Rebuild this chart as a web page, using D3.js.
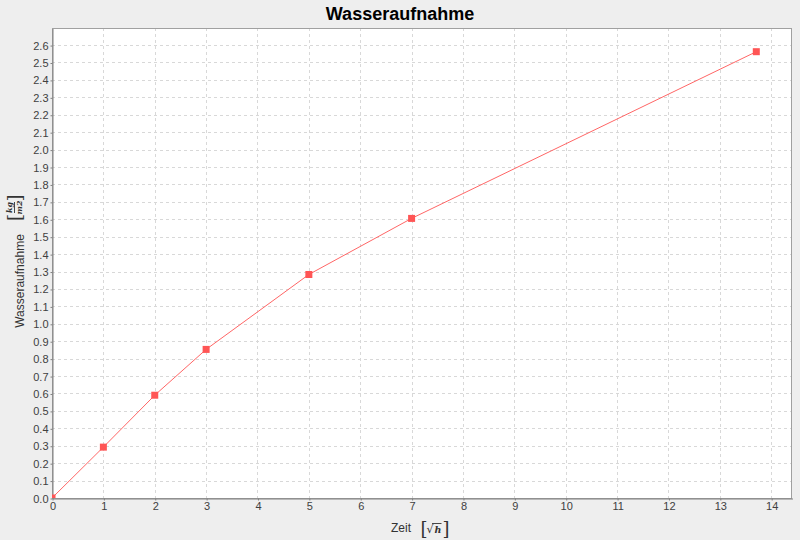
<!DOCTYPE html>
<html><head><meta charset="utf-8">
<script src="https://cdn.jsdelivr.net/npm/d3@7"></script>
<style>body{margin:0;background:#eeeeee;} svg{display:block;font-family:"Liberation Sans",Arial,sans-serif;}</style>
</head><body>
<svg id="c" width="800" height="540"></svg>
<script>
const title = "Wasseraufnahme";
const xValues = [0, 1, 2, 3, 5, 7, 13.71];
const yValues = [0, 0.292, 0.59, 0.853, 1.283, 1.605, 2.562];
const xTicks = d3.range(0, 15, 1);
const yTicks = d3.range(0, 27, 1).map(i => +(i * 0.1).toFixed(1));
const xLabel = "Zeit";
const yLabel = "Wasseraufnahme";

const svg = d3.select("#c");
const L = 52, R = 792, T = 28, B = 498;
const x = d3.scaleLinear().domain([0, 14.405]).range([L, R]);
const y = d3.scaleLinear().domain([0, 2.698]).range([B, T]);

svg.append("rect").attr("width", 800).attr("height", 540).attr("fill", "#eeeeee");
svg.append("rect").attr("x", L).attr("y", T).attr("width", R - L).attr("height", B - T).attr("fill", "#ffffff");

const grid = svg.append("g").attr("stroke", "#d8d8d8").attr("stroke-dasharray", "3,3").attr("stroke-width", 1);
xTicks.forEach(t => { if (t > 0) grid.append("line").attr("x1", Math.round(x(t)) + 0.5).attr("x2", Math.round(x(t)) + 0.5).attr("y1", T).attr("y2", B); });
yTicks.forEach(t => { if (t > 0) grid.append("line").attr("y1", Math.round(y(t)) + 0.5).attr("y2", Math.round(y(t)) + 0.5).attr("x1", L).attr("x2", R); });

svg.append("rect").attr("x", L + 0.5).attr("y", T + 0.5).attr("width", R - L - 1).attr("height", B - T).attr("fill", "none").attr("stroke", "#a0a0a0");

const xAxis = svg.append("g").attr("transform", `translate(0.5,${B + 0.5})`)
  .call(d3.axisBottom(x).tickValues(xTicks).tickFormat(d3.format("d")).tickSize(2).tickSizeOuter(0));
const yAxis = svg.append("g").attr("transform", `translate(${L + 0.5},0.5)`)
  .call(d3.axisLeft(y).tickValues(yTicks).tickFormat(d3.format(".1f")).tickSize(2).tickSizeOuter(0));
[xAxis, yAxis].forEach(a => {
  a.select(".domain").attr("stroke", "#808080");
  a.selectAll(".tick line").attr("stroke", "#808080");
  a.selectAll(".tick text").attr("fill", "#404040").attr("font-size", 11).attr("font-family", "Liberation Sans, Arial, sans-serif");
});
xAxis.selectAll(".tick text").attr("dy", "0.71em").attr("y", 4);
yAxis.selectAll(".tick text").attr("x", -4);

svg.append("clipPath").attr("id", "pc").append("rect").attr("x", L).attr("y", T).attr("width", R - L).attr("height", B - T);
const plot = svg.append("g").attr("clip-path", "url(#pc)");
const pts = xValues.map((v, i) => [v, yValues[i]]);
plot.append("path").attr("d", d3.line().x(d => x(d[0])).y(d => y(d[1]))(pts))
  .attr("fill", "none").attr("stroke", "#ff6666").attr("stroke-width", 1);
plot.selectAll("rect.m").data(pts).enter().append("rect").attr("class", "m")
  .attr("x", d => x(d[0]) - 3.5).attr("y", d => y(d[1]) - 3.5).attr("width", 7).attr("height", 7).attr("fill", "#ff5555");

svg.append("text").attr("x", 400).attr("y", 20).attr("text-anchor", "middle").attr("font-size", 18).attr("font-weight", "bold").attr("fill", "#000").text(title);

const serif = "DejaVu Serif, serif";
// x label
const xl = svg.append("g").attr("fill", "#333");
xl.append("text").attr("x", 391).attr("y", 532).attr("font-size", 12).text(xLabel);
xl.append("text").attr("x", 420.5).attr("y", 535).attr("font-size", 18).attr("font-family", serif).text("[");
xl.append("text").attr("x", 426.5).attr("y", 533).attr("font-size", 11).attr("font-family", serif).text("√");
xl.append("line").attr("x1", 432).attr("x2", 441.5).attr("y1", 523.5).attr("y2", 523.5).attr("stroke", "#333").attr("stroke-width", 0.9);
xl.append("text").attr("x", 434.5).attr("y", 533).attr("font-size", 9.5).attr("font-style", "italic").attr("font-weight", "bold").attr("font-family", serif).text("h");
xl.append("text").attr("x", 442.5).attr("y", 535).attr("font-size", 18).attr("font-family", serif).text("]");

// y label
const yl = svg.append("g").attr("transform", "translate(24,0) rotate(-90)").attr("fill", "#333");
yl.append("text").attr("x", -281).attr("y", 0).attr("text-anchor", "middle").attr("font-size", 12).text(yLabel);
yl.append("text").attr("x", -221).attr("y", -3).attr("font-size", 18).attr("font-family", serif).text("[");
yl.append("text").attr("x", -207.5).attr("y", -12).attr("text-anchor", "middle").attr("font-size", 8).attr("font-style", "italic").attr("font-weight", "bold").attr("font-family", serif).text("kg");
yl.append("line").attr("x1", -213).attr("x2", -202).attr("y1", -9.5).attr("y2", -9.5).attr("stroke", "#333").attr("stroke-width", 0.9);
yl.append("text").attr("x", -207.5).attr("y", -2).attr("text-anchor", "middle").attr("font-size", 8).attr("font-style", "italic").attr("font-weight", "bold").attr("font-family", serif).text("m2");
yl.append("text").attr("x", -201.5).attr("y", -3).attr("font-size", 18).attr("font-family", serif).text("]");
</script>
</body></html>
